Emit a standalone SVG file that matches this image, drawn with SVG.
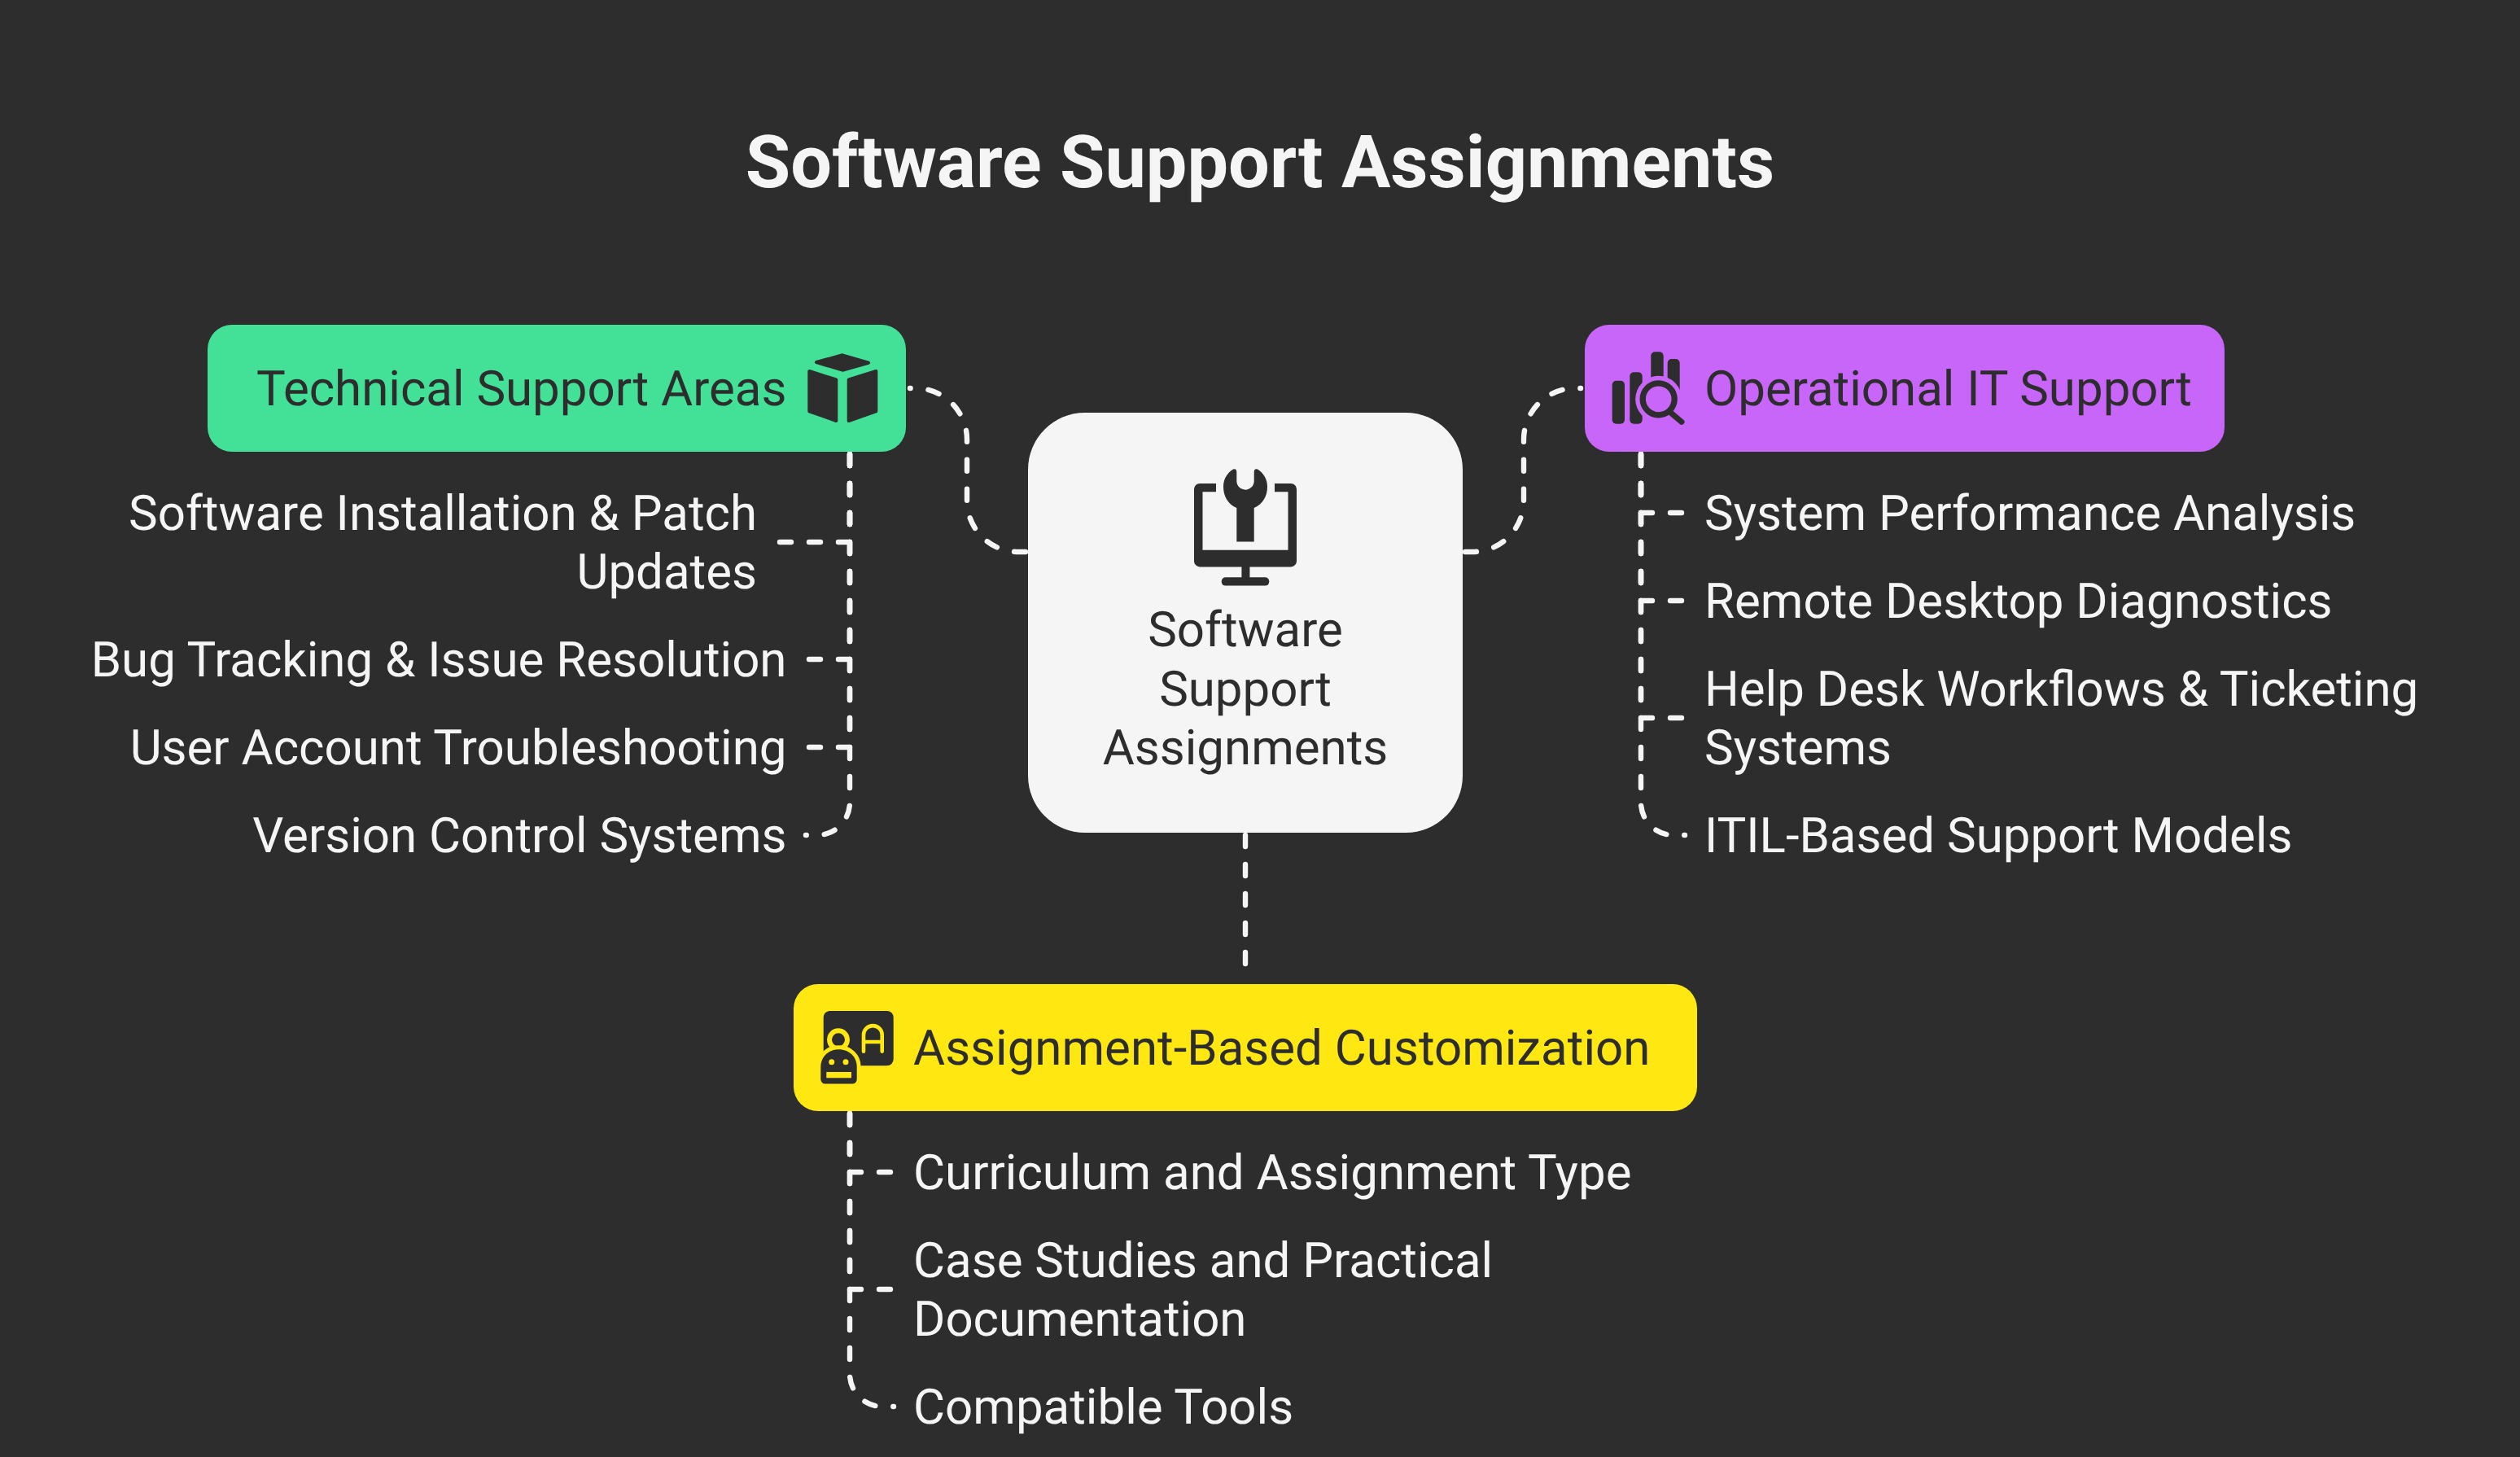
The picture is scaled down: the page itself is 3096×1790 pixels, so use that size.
<svg xmlns="http://www.w3.org/2000/svg" width="3096" height="1790" viewBox="0 0 3096 1790">
<style>
text{font-family:Roboto,"Liberation Sans",sans-serif;font-size:60px;text-rendering:geometricPrecision}
.t{fill:#f5f5f5}.d{fill:#2d2d2d}.e{text-anchor:end}.m{text-anchor:middle}
.c{fill:none;stroke:#f5f5f5;stroke-width:6.4;stroke-linecap:round;stroke-dasharray:14 22}
.i{fill:#2d2d2d}
</style>
<rect width="3096" height="1790" fill="#2d2d2d"/>
<text id="title" x="1548" y="230" class="t m" style="font-size:90px;font-weight:700">Software Support Assignments</text>
<g id="connectors">
<path class="c" d="M1260 678H1251A63 63 0 0 1 1188 615V540A63 63 0 0 0 1125 477H1118"/>
<path class="c" d="M1800 678H1809A63 63 0 0 0 1872 615V540A63 63 0 0 1 1935 477H1942"/>
<path class="c" d="M1530 1026V1190"/>
<path class="c" d="M1044 558V666H958"/>
<path class="c" d="M1044 558V810H994"/>
<path class="c" d="M1044 558V918H994"/>
<path class="c" d="M1044 558V986A40 40 0 0 1 1004 1026H990"/>
<path class="c" d="M2016 558V630H2066"/>
<path class="c" d="M2016 558V738H2066"/>
<path class="c" d="M2016 558V882H2066"/>
<path class="c" d="M2016 558V986A40 40 0 0 0 2056 1026H2070"/>
<path class="c" d="M1044 1368V1440H1094"/>
<path class="c" d="M1044 1368V1584H1094"/>
<path class="c" d="M1044 1368V1688A40 40 0 0 0 1084 1728H1098"/>
</g>
<g id="node-center">
<rect x="1263" y="507" width="534" height="516" rx="70" fill="#f5f5f5"/>
<path class="i" d="M1494 594H1474a7 7 0 0 0-7 7V689.4a7 7 0 0 0 7 7H1586a7 7 0 0 0 7-7V601a7 7 0 0 0-7-7H1566V604.3H1582.5V675.7H1477.5V604.3H1494Z"/>
<path class="i" d="M1519.3 665.4V624C1508 619 1503 609 1503 598C1503 588 1508 581 1515 576.5Q1519.3 575 1519.3 580V591A10.7 10.7 0 0 0 1540.7 591V580Q1540.7 575 1545 576.5C1552 581 1557 588 1557 598C1557 609 1552 619 1540.7 624V665.4Z"/>
<rect class="i" x="1525.4" y="696" width="10" height="16"/>
<rect class="i" x="1500.7" y="709.3" width="58.6" height="10.3" rx="5"/>
<text x="1530" y="794" class="d m">Software</text>
<text x="1530" y="867" class="d m">Support</text>
<text x="1530" y="939" class="d m">Assignments</text>
</g>
<g id="node-technical">
<rect x="255" y="399" width="858" height="156" rx="30" fill="#43e097"/>
<text x="315" y="498" class="d">Technical Support Areas</text>
<g class="i" stroke="#2d2d2d" stroke-width="4" stroke-linejoin="round">
<path d="M1035 436.3L1067 445.7L1035 454.7L1003 445Z"/>
<path d="M994.3 456L1027.3 466.5V517L994.3 505.3Z"/>
<path d="M1042.7 466.5L1076.3 456V505.3L1042.7 517Z"/>
</g>
</g>
<g id="items-technical" class="t">
<text x="930" y="651" class="t e">Software Installation &amp; Patch</text>
<text x="930" y="723" class="t e">Updates</text>
<text x="966.5" y="831" class="t e">Bug Tracking &amp; Issue Resolution</text>
<text x="966.5" y="939" class="t e">User Account Troubleshooting</text>
<text x="966.5" y="1047" class="t e">Version Control Systems</text>
</g>
<g id="node-operational">
<rect x="1947" y="399" width="786" height="156" rx="30" fill="#c866f9"/>
<text x="2094" y="498" class="d">Operational IT Support</text>
<g class="i">
<rect x="1980.7" y="467.7" width="15.3" height="53" rx="5"/>
<rect x="2002.3" y="457.3" width="15.4" height="63.4" rx="5"/>
<rect x="2028.3" y="432.3" width="15.4" height="60" rx="5"/>
<rect x="2048.7" y="441" width="15" height="60" rx="5"/>
<circle cx="2037.7" cy="490.3" r="28.5" fill="#c866f9"/>
<circle cx="2037.7" cy="490.3" r="19.5" fill="none" stroke="#2d2d2d" stroke-width="7.3"/>
<path d="M2053 507.3L2066 518.3" stroke="#2d2d2d" stroke-width="7" stroke-linecap="round"/>
</g>
</g>
<g id="items-operational">
<text x="2094" y="651" class="t">System Performance Analysis</text>
<text x="2094" y="759" class="t">Remote Desktop Diagnostics</text>
<text x="2094" y="867" class="t">Help Desk Workflows &amp; Ticketing</text>
<text x="2094" y="939" class="t">Systems</text>
<text x="2094" y="1047" class="t">ITIL-Based Support Models</text>
</g>
<g id="node-assignment">
<rect x="975" y="1209" width="1110" height="156" rx="30" fill="#ffe811"/>
<text x="1122" y="1308" class="d">Assignment-Based Customization</text>
<rect class="i" x="1011.7" y="1242" width="86" height="67.3" rx="8"/>
<path d="M1061 1291.7V1271.5a11.3 11.3 0 0 1 22.7 0V1291.7M1061 1280H1083.7" fill="none" stroke="#ffe811" stroke-width="4.6" stroke-linecap="round"/>
<circle cx="1030" cy="1277.3" r="11" fill="#2d2d2d" stroke="#ffe811" stroke-width="6"/>
<path class="i" stroke="#ffe811" stroke-width="10" d="M1008.3 1311C1008.3 1298 1018 1289.3 1030.5 1289.3C1043 1289.3 1052.7 1298 1052.7 1311V1326a5.5 5.5 0 0 1-5.5 5.5H1013.8a5.5 5.5 0 0 1-5.5-5.5Z"/>
<path class="i" d="M1008.3 1311C1008.3 1298 1018 1289.3 1030.5 1289.3C1043 1289.3 1052.7 1298 1052.7 1311V1326a5.5 5.5 0 0 1-5.5 5.5H1013.8a5.5 5.5 0 0 1-5.5-5.5Z"/>
<circle cx="1021.7" cy="1304.7" r="3.5" fill="#ffe811"/>
<circle cx="1039" cy="1304.7" r="3.5" fill="#ffe811"/>
<rect x="1015.3" y="1317" width="30.7" height="7.3" fill="#ffe811"/>
</g>
<g id="items-assignment">
<text x="1122" y="1461" class="t">Curriculum and Assignment Type</text>
<text x="1122" y="1569" class="t">Case Studies and Practical</text>
<text x="1122" y="1641" class="t">Documentation</text>
<text x="1122" y="1749" class="t">Compatible Tools</text>
</g>
</svg>
